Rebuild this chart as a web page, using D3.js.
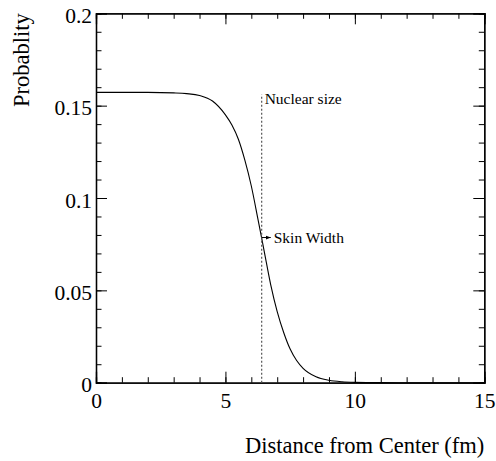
<!DOCTYPE html>
<html>
<head>
<meta charset="utf-8">
<script src="https://cdn.jsdelivr.net/npm/d3@7"></script>
<style>
  body { margin: 0; background: #fff; }
  text { font-family: "Liberation Serif", "Times New Roman", serif; fill: #000; }
</style>
</head>
<body>
<div id="my_dataviz"></div>
<script>
// values
var distance = [0, 1, 2, 3, 3.5, 4, 4.5, 5, 5.25, 5.5, 5.75, 6, 6.25, 6.5, 6.75, 7, 7.25, 7.5, 7.75, 8, 8.5, 9, 9.5, 10, 11, 12, 15]
var probability = [0.1572, 0.1572, 0.1572, 0.1569, 0.1565, 0.1555, 0.1525, 0.1450, 0.1395, 0.1318, 0.1205, 0.1065, 0.0890, 0.0710, 0.0530, 0.0385, 0.0272, 0.0182, 0.0120, 0.0078, 0.0032, 0.0013, 0.0005, 0.0002, 0.00003, 0, 0]
var xTicks = [0, 5, 10, 15]
var yTicks = [0, 0.05, 0.1, 0.15, 0.2]
var nuclearSize = [6.4, 0.156]   // x position, top of dashed line
var skinWidth = [6.4, 6.75, 0.0786] // arrow from, to, height

var W = 496, H = 461
var margin = {top: 13.3, right: 11.7, bottom: 78.3, left: 96}
var width = W - margin.left - margin.right
var height = H - margin.top - margin.bottom

var svg = d3.select("#my_dataviz")
  .append("svg")
    .attr("width", W)
    .attr("height", H)

svg.append("defs").append("marker")
    .attr("id", "arrow")
    .attr("viewBox", "0 0 10 10")
    .attr("refX", 10).attr("refY", 5)
    .attr("markerWidth", 5).attr("markerHeight", 5)
    .attr("orient", "auto")
  .append("path")
    .attr("d", "M0,1L10,5L0,9Z")
    .attr("fill", "#000")

var g = svg.append("g")
    .attr("transform", "translate(" + margin.left + "," + margin.top + ")")

var x = d3.scaleLinear().domain([0, 15]).range([0, width])
var y = d3.scaleLinear().domain([0, 0.2]).range([height, 0])

var fmt = function(d) { return String(+d.toFixed(2)) }
var xMinor = d3.range(0, 15.01, 1)
var yMinor = d3.range(0, 0.2001, 0.01)

// minor ticks on all four sides
g.append("g").attr("transform", "translate(0," + height + ")")
  .call(d3.axisBottom(x).tickValues(xMinor).tickSize(-5.5).tickFormat(""))
g.append("g")
  .call(d3.axisTop(x).tickValues(xMinor).tickSize(-5.5).tickFormat(""))
g.append("g")
  .call(d3.axisLeft(y).tickValues(yMinor).tickSize(-5.5).tickFormat(""))
g.append("g").attr("transform", "translate(" + width + ",0)")
  .call(d3.axisRight(y).tickValues(yMinor).tickSize(-5.5).tickFormat(""))

// major ticks and labels
g.append("g").attr("class", "xaxis").attr("transform", "translate(0," + height + ")")
  .call(d3.axisBottom(x).tickValues(xTicks).tickSize(-11).tickPadding(10).tickFormat(fmt))
g.append("g")
  .call(d3.axisTop(x).tickValues(xTicks).tickSize(-11).tickFormat(""))
g.append("g").attr("class", "yaxis")
  .call(d3.axisLeft(y).tickValues(yTicks).tickSize(-11).tickPadding(4).tickFormat(fmt))
g.append("g").attr("transform", "translate(" + width + ",0)")
  .call(d3.axisRight(y).tickValues(yTicks).tickSize(-11).tickFormat(""))

g.selectAll("g").attr("font-family", "Liberation Serif")
g.selectAll(".domain").attr("stroke", "#000").attr("stroke-width", 1.3)
g.selectAll(".tick line").attr("stroke", "#000")
g.selectAll(".tick text")
    .attr("font-size", 21.5)
    .attr("fill", "#000")
    .style("font-family", "'Liberation Serif', serif")
g.selectAll(".yaxis .tick text").attr("dy", "0.42em")

// curve
var pts = distance.map(function(d, i) { return [d, probability[i]] })
g.append("path")
    .datum(pts)
    .attr("fill", "none")
    .attr("stroke", "#000")
    .attr("stroke-width", 1.1)
    .attr("d", d3.line()
      .curve(d3.curveMonotoneX)
      .x(function(d) { return x(d[0]) })
      .y(function(d) { return y(d[1]) }))

// nuclear size marker
g.append("line")
    .attr("x1", x(nuclearSize[0])).attr("x2", x(nuclearSize[0]))
    .attr("y1", y(0)).attr("y2", y(nuclearSize[1]))
    .attr("stroke", "#555")
    .attr("stroke-width", 1.2)
    .attr("stroke-dasharray", "2,2")
g.append("text")
    .attr("x", x(nuclearSize[0]) + 3)
    .attr("y", y(nuclearSize[1]) + 9.5)
    .attr("font-size", 15.5)
    .text("Nuclear size")

// skin width arrow
g.append("line")
    .attr("x1", x(skinWidth[0])).attr("x2", x(skinWidth[1]))
    .attr("y1", y(skinWidth[2])).attr("y2", y(skinWidth[2]))
    .attr("stroke", "#000")
    .attr("marker-end", "url(#arrow)")
g.append("text")
    .attr("x", x(skinWidth[1]) + 3)
    .attr("y", y(skinWidth[2]) + 5.5)
    .attr("font-size", 15.5)
    .text("Skin Width")

// axis titles
svg.append("text")
    .attr("text-anchor", "end")
    .attr("x", margin.left + width)
    .attr("y", 453)
    .attr("font-size", 22.5)
    .text("Distance from Center (fm)")
svg.append("text")
    .attr("text-anchor", "end")
    .attr("transform", "translate(29," + margin.top + ") rotate(-90)")
    .attr("font-size", 22.5)
    .text("Probablity")
</script>
</body>
</html>
